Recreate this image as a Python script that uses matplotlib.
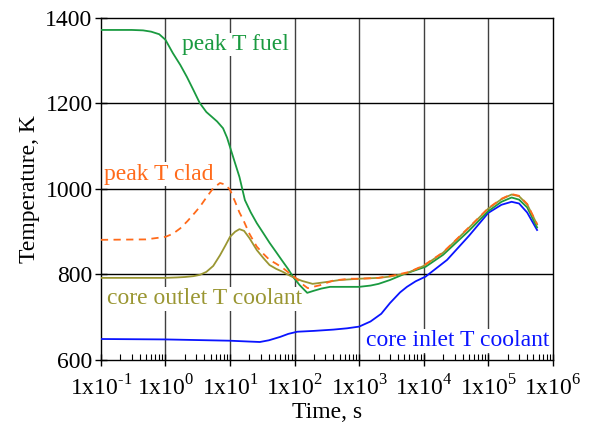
import numpy as np
import matplotlib.pyplot as plt
from matplotlib.ticker import FixedLocator, LogLocator, NullFormatter

plt.rcParams['font.family'] = ['Liberation Serif', 'DejaVu Serif']
plt.rcParams['mathtext.fontset'] = 'custom'
plt.rcParams['mathtext.rm'] = 'Liberation Serif'

# peak T fuel
t_fuel = [0.1, 0.3, 0.45, 0.6, 0.8, 1.0, 1.3, 1.7, 2.15, 2.7, 3.4, 4.3, 5.3, 6.3, 7.8,
          9, 10, 12, 14, 17, 21, 26, 33, 41, 52, 63, 80, 95, 120, 157, 200, 260, 355,
          500, 700, 1000, 1500, 2000, 3000, 5000, 1.07e4, 2e4, 5e4, 1e5, 1.6e5, 2.3e5,
          3e5, 4e5, 5.7e5]
T_fuel = [1372, 1372, 1371, 1368, 1362, 1349, 1318, 1290, 1262, 1232, 1201, 1180, 1168,
          1158, 1142, 1120, 1098, 1060, 1028, 974, 945, 920, 896, 874, 852, 834, 812,
          794, 775, 757, 762, 767, 771, 771, 771, 771, 774, 778, 787, 801, 818, 846,
          902, 948, 970, 980, 975, 957, 910]

# peak T clad
t_clad = [0.1, 0.5, 1, 1.3, 1.7, 2.2, 2.8, 3.4, 4.3, 5.5, 7, 8.5, 10, 12, 14, 16, 20,
          26, 33, 41, 52, 66, 80, 100, 130, 160, 250, 400, 730, 1000, 2000, 3500, 6000,
          1e4, 2e4, 5e4, 1e5, 1.6e5, 2.3e5, 3e5, 4e5, 5.7e5]
T_clad = [881, 882, 888, 895, 908, 925, 943, 958, 980, 1002, 1014, 1010, 998, 970, 945,
          928, 895, 865, 848, 834, 825, 815, 805, 794, 778, 768, 775, 786, 790, 790,
          792, 798, 806, 821, 852, 910, 955, 977, 988, 984, 965, 918]

# core outlet T coolant
t_out = [0.1, 1, 1.5, 2, 2.7, 3.4, 4.3, 5.5, 7, 8.5, 10, 12, 14, 16.5, 20, 26, 33, 41,
         52, 66, 80, 100, 130, 190, 300, 500, 1000, 2000, 3000, 5500, 1e4, 2e4, 5e4,
         1e5, 1.6e5, 2.3e5, 3e5, 4e5, 5.7e5]
T_out = [792, 792, 793, 794, 796, 799, 806, 820, 845, 868, 888, 900, 906, 902, 885, 857,
         838, 822, 813, 806, 799, 792, 785, 778, 782, 787, 790, 792, 795, 803, 820, 851,
         909, 954, 976, 987, 983, 964, 917]

# core inlet T coolant
t_in = [0.1, 1, 10, 20, 29, 40, 60, 80, 110, 200, 400, 650, 1000, 1500, 2200, 3000,
        4300, 5500, 7500, 1.07e4, 2.3e4, 5e4, 1e5, 1.6e5, 2.3e5, 3e5, 4e5, 5.7e5]
T_in = [649, 648, 645, 643, 642, 646, 654, 661, 666, 668, 671, 674, 678, 690, 708, 733,
        758, 771, 784, 795, 834, 890, 944, 963, 970, 966, 945, 904]

x_ticks = [1e-1, 1e0, 1e1, 1e2, 1e3, 1e4, 1e5, 1e6]
x_labels = [r'1x10$^{\text{-1}}$', '1x10$^{0}$', '1x10$^{1}$', '1x10$^{2}$',
            '1x10$^{3}$', '1x10$^{4}$', '1x10$^{5}$', '1x10$^{6}$']
y_ticks = [600, 800, 1000, 1200, 1400]

c_fuel = '#1a9a40'
c_clad = '#ff6a1a'
c_out = '#9a9632'
c_in = '#0a14ff'

fig = plt.figure(figsize=(5.9, 4.28), dpi=100)
ax = fig.add_axes([0.171, 0.159, 0.766, 0.799])

for x in x_ticks[1:-1]:
    ax.axvline(x, color='#404040', lw=1, zorder=1)
for y in y_ticks[1:-1]:
    ax.axhline(y, color='black', lw=1, zorder=1)

ax.plot(t_in, T_in, color=c_in, lw=1.3, zorder=3)
ax.plot(t_fuel, T_fuel, color=c_fuel, lw=1.3, zorder=3)
ax.plot(t_out, T_out, color=c_out, lw=1.3, zorder=4)
ax.plot(t_clad, T_clad, color=c_clad, lw=1.3, ls=(0, (4, 3)), zorder=5)

ax.set_xscale('log')
ax.set_xlim(1e-1, 1e6)
ax.set_ylim(600, 1400)
ax.xaxis.set_major_locator(FixedLocator(x_ticks))
ax.set_xticklabels(x_labels)
ax.xaxis.set_minor_locator(LogLocator(base=10, subs=np.arange(2, 10), numticks=20))
ax.xaxis.set_minor_formatter(NullFormatter())
ax.set_yticks(y_ticks)

ax.tick_params(axis='both', which='major', labelsize=17, direction='inout',
               length=8, width=1, color='black')
ax.tick_params(axis='x', which='minor', direction='in', length=4, width=0.8)
ax.tick_params(axis='x', which='major', pad=7)
ax.tick_params(axis='y', which='major', pad=2)
for s in ax.spines.values():
    s.set_linewidth(1)

ax.set_xlabel('Time, s', fontsize=17, labelpad=1)
ax.set_ylabel('Temperature, K', fontsize=17, labelpad=4)

box = dict(facecolor='white', edgecolor='none', pad=1)
ax.text(1.8, 1338, 'peak T fuel', color=c_fuel, fontsize=17, va='center', ha='left',
        bbox=box, zorder=2)
ax.text(0.113, 1035, 'peak T clad', color=c_clad, fontsize=17, va='center', ha='left',
        bbox=box, zorder=2)
ax.text(0.125, 743, 'core outlet T coolant', color=c_out, fontsize=17, va='center',
        ha='left', bbox=box, zorder=2)
ax.text(1.3e3, 645, 'core inlet T coolant', color=c_in, fontsize=17, va='center',
        ha='left', bbox=box, zorder=2)

fig.savefig('out.png', dpi=100)
